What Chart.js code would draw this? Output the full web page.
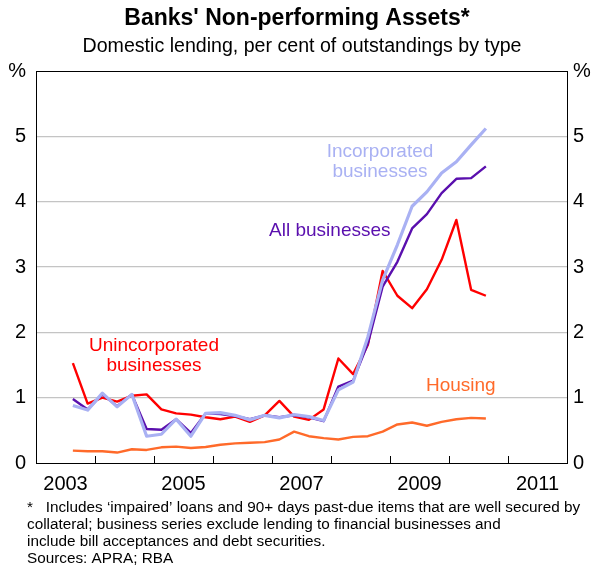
<!DOCTYPE html>
<html>
<head>
<meta charset="utf-8">
<script src="https://cdn.jsdelivr.net/npm/chart.js@4.4.0/dist/chart.umd.min.js"></script>
<style>
  html, body { margin: 0; padding: 0; background: #fff; }
  #wrap { position: relative; width: 594px; height: 569px; }
</style>
</head>
<body>
<div id="wrap"><canvas id="npaChart" width="594" height="569"></canvas></div>
<script>
// quarterly observations, Sep 2003 .. Sep 2010 (plotted mid-quarter)
const quarters = ['2003Q3','2003Q4','2004Q1','2004Q2','2004Q3','2004Q4','2005Q1','2005Q2','2005Q3','2005Q4',
  '2006Q1','2006Q2','2006Q3','2006Q4','2007Q1','2007Q2','2007Q3','2007Q4','2008Q1','2008Q2',
  '2008Q3','2008Q4','2009Q1','2009Q2','2009Q3','2009Q4','2010Q1','2010Q2','2010Q3'];

const unincorporated = [1.53, 0.91, 1.00, 0.94, 1.03, 1.05, 0.82, 0.76, 0.74, 0.70,
  0.67, 0.71, 0.63, 0.73, 0.95, 0.71, 0.66, 0.82, 1.60, 1.36,
  1.81, 2.94, 2.56, 2.37, 2.66, 3.11, 3.72, 2.65, 2.56];
const allBusinesses = [0.98, 0.82, 1.05, 0.87, 1.05, 0.52, 0.51, 0.67, 0.46, 0.76,
  0.75, 0.72, 0.67, 0.73, 0.70, 0.73, 0.70, 0.64, 1.17, 1.26,
  1.83, 2.70, 3.08, 3.59, 3.81, 4.13, 4.35, 4.36, 4.54];
const incorporated = [0.88, 0.81, 1.07, 0.86, 1.05, 0.41, 0.44, 0.67, 0.41, 0.76,
  0.77, 0.73, 0.66, 0.73, 0.69, 0.74, 0.71, 0.65, 1.12, 1.24,
  1.93, 2.80, 3.34, 3.93, 4.15, 4.44, 4.61, 4.87, 5.12];
const housing = [0.19, 0.18, 0.18, 0.16, 0.21, 0.20, 0.24, 0.25, 0.23, 0.245,
  0.28, 0.30, 0.31, 0.32, 0.36, 0.48, 0.41, 0.38, 0.36, 0.40,
  0.41, 0.48, 0.59, 0.62, 0.57, 0.63, 0.67, 0.69, 0.68];

const yearLabels = ['2003', '2005', '2007', '2009', '2011'];
const yTicks = [0, 1, 2, 3, 4, 5, 6];

const FONT = "Arial, 'Liberation Sans', sans-serif";

// turn '2004Q1' into a decimal year at the middle of the quarter
function qx(q) {
  return parseInt(q.slice(0, 4)) + (parseInt(q.slice(5)) - 1) * 0.25 + 0.125;
}
function pts(vals) {
  return vals.map((v, i) => ({ x: qx(quarters[i]), y: v }));
}

const notes = [
  { text: ['Incorporated', 'businesses'], x: 2008.83, y: 4.76, color: '#a9b1f3' },
  { text: ['All businesses'], x: 2007.98, y: 3.55, color: '#5a0fae' },
  { text: ['Unincorporated', 'businesses'], x: 2005.0, y: 1.79, color: '#ff0000' },
  { text: ['Housing'], x: 2010.2, y: 1.18, color: '#ff6a2a' }
];

const decorPlugin = {
  id: 'decor',
  afterDraw(chart) {
    const c = chart.ctx;
    const a = chart.chartArea;
    const xs = chart.scales.x, ys = chart.scales.y;
    c.save();
    // border box
    c.strokeStyle = '#000';
    c.lineWidth = 1;
    c.strokeRect(Math.round(a.left) + 0.5, Math.round(a.top) + 0.5,
      Math.round(a.right - a.left), Math.round(a.bottom - a.top));
    // year ticks pointing up from the bottom axis
    for (let yr = 2004; yr <= 2011; yr++) {
      const px = Math.round(xs.getPixelForValue(yr)) + 0.5;
      c.beginPath();
      c.moveTo(px, a.bottom);
      c.lineTo(px, a.bottom - 7);
      c.stroke();
    }
    // year labels centred in each year
    c.fillStyle = '#000';
    c.font = '20px ' + FONT;
    c.textAlign = 'center';
    c.textBaseline = 'middle';
    yearLabels.forEach(l => {
      c.fillText(l, xs.getPixelForValue(parseInt(l) + 0.5), a.bottom + 21);
    });
    // series annotations
    c.font = '19px ' + FONT;
    notes.forEach(n => {
      c.fillStyle = n.color;
      const px = xs.getPixelForValue(n.x);
      const py = ys.getPixelForValue(n.y);
      n.text.forEach((t, i) => c.fillText(t, px, py + i * 20));
    });
    // titles
    c.fillStyle = '#000';
    c.font = 'bold 23px ' + FONT;
    c.fillText("Banks' Non-performing Assets*", 297, 19);
    c.font = '19.6px ' + FONT;
    c.fillText('Domestic lending, per cent of outstandings by type', 302, 47);
    // footnote
    c.textAlign = 'left';
    c.font = '15.3px ' + FONT;
    c.fillText('*   Includes \u2018impaired\u2019 loans and 90+ days past-due items that are well secured by', 27, 508);
    c.fillText('collateral; business series exclude lending to financial businesses and', 27, 525);
    c.fillText('include bill acceptances and debt securities.', 27, 542);
    c.fillText('Sources: APRA; RBA', 27, 559);
    c.restore();
  }
};

function yAxis(pos) {
  return {
    type: 'linear',
    position: pos,
    min: 0, max: 6,
    afterBuildTicks: s => { s.ticks = yTicks.map(v => ({ value: v })); },
    afterFit: s => { s.width = pos === 'left' ? 36 : 27; },
    border: { display: false },
    grid: {
      display: pos === 'left',
      color: ctx => (ctx.tick && (ctx.tick.value === 0 || ctx.tick.value === 6)) ? 'rgba(0,0,0,0)' : '#c4c4c4',
      lineWidth: 1.3,
      drawTicks: false
    },
    ticks: {
      color: '#000',
      padding: pos === 'left' ? 10 : 6,
      font: { family: FONT, size: 20 },
      callback: v => v === 6 ? '%' : v
    }
  };
}

const lineStyle = { fill: false, pointRadius: 0, tension: 0, borderJoinStyle: 'round' };

new Chart(document.getElementById('npaChart'), {
  type: 'line',
  data: {
    datasets: [
      { label: 'Housing', data: pts(housing), borderColor: '#ff6a2a', borderWidth: 2.4, ...lineStyle },
      { label: 'Incorporated businesses', data: pts(incorporated), borderColor: '#a9b1f3', borderWidth: 3.2, ...lineStyle },
      { label: 'All businesses', data: pts(allBusinesses), borderColor: '#5a0fae', borderWidth: 2.4, ...lineStyle },
      { label: 'Unincorporated businesses', data: pts(unincorporated), borderColor: '#ff0000', borderWidth: 2.4, ...lineStyle }
    ]
  },
  options: {
    responsive: false,
    animation: false,
    layout: { padding: { top: 71, bottom: 106, left: 0, right: 0 } },
    plugins: { legend: { display: false }, tooltip: { enabled: false } },
    scales: {
      x: {
        type: 'linear',
        min: 2003, max: 2012,
        afterFit: s => { s.height = 0; },
        grid: { display: false },
        border: { display: false },
        ticks: { display: false }
      },
      y: yAxis('left'),
      y2: yAxis('right')
    }
  },
  plugins: [decorPlugin]
});
</script>
</body>
</html>
